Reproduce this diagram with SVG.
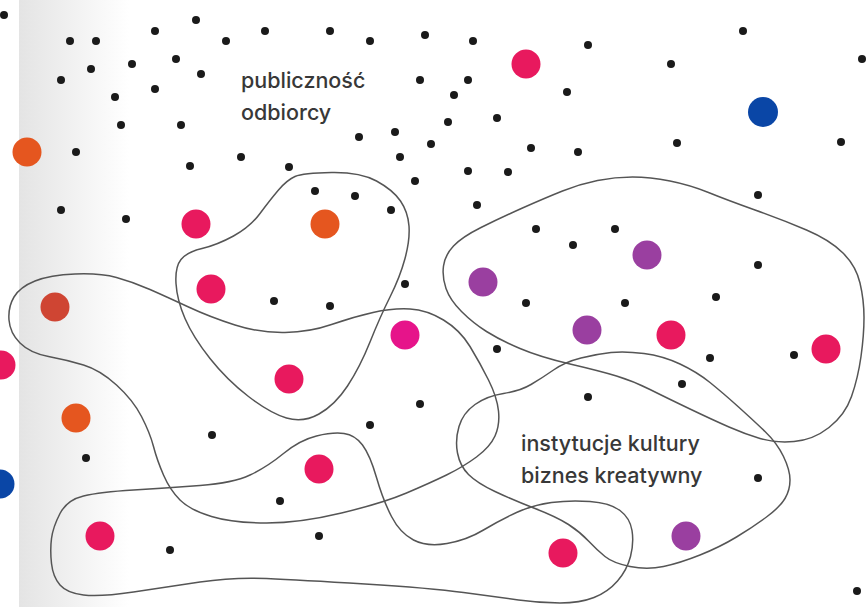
<svg xmlns="http://www.w3.org/2000/svg" width="866" height="607" viewBox="0 0 866 607">
<defs>
<linearGradient id="fade" x1="0" y1="0" x2="1" y2="0">
<stop offset="0" stop-color="#e4e4e4"/>
<stop offset="1" stop-color="#ffffff"/>
</linearGradient>
<style>
.blob{fill:none;stroke:#555555;stroke-width:1.5}
.k{fill:#1a1a1a}
.p{fill:#e8195e}
.m{fill:#e6148a}
.o{fill:#e5561f}
.r{fill:#cf4533}
.v{fill:#9a3fa0}
.b{fill:#0a46a6}
.lbl{font-family:Inter,"Noto Sans",sans-serif;font-size:21.5px;font-weight:500;fill:#383838}
</style>
</defs>
<rect width="866" height="607" fill="#ffffff"/>
<rect x="19" y="0" width="110" height="607" fill="url(#fade)"/>
<g id="blobs">
<path id="blob-a" class="blob" d="M 331.5,172.5 Q 360,172 376.5,181 Q 393,190 400.5,201 Q 408,212 409,226 Q 410,240 405,258.5 Q 400,277 390,297 Q 380,317 370,342 Q 360,367 347.5,386 Q 335,405 319,414 Q 303,423 286.5,418 Q 270,413 248.5,396.5 Q 227,380 210,358.5 Q 193,337 185,318.5 Q 177,300 176,283.5 Q 175,267 181,259.5 Q 187,252 202,248.5 Q 217,245 233.5,236 Q 250,227 260,213.5 Q 270,200 278.5,190 Q 287,180 295,176.5 Q 303,173 331.5,172.5 Z"/>
<path id="blob-b" class="blob" d="M 9,320 Q 8,307 14,297 Q 20,287 35,281 Q 50,275 75,274 Q 100,273 116.5,277.5 Q 133,282 150,289.5 Q 167,297 188.5,307 Q 210,317 235,325 Q 260,333 285,332.5 Q 310,332 331.5,324.5 Q 353,317 373,312.5 Q 393,308 410,309 Q 427,310 443.5,320 Q 460,330 470,346.5 Q 480,363 488.5,380 Q 497,397 498.5,411 Q 500,425 495,436 Q 490,447 476.5,457 Q 463,467 446.5,475 Q 430,483 406.5,493 Q 383,503 341.5,513 Q 300,523 266.5,523 Q 233,523 211.5,516.5 Q 190,510 180,500 Q 170,490 163.5,475 Q 157,460 153.5,446.5 Q 150,433 141.5,416.5 Q 133,400 116.5,385 Q 100,370 83.5,365 Q 67,360 48.5,356.5 Q 30,353 20,343 Q 10,333 9,320 Z"/>
<path id="blob-c" class="blob" d="M 51.5,538.5 Q 53,527 60,513.5 Q 67,500 83.5,496 Q 100,492 133.5,490 Q 167,488 200,485.5 Q 233,483 250,475 Q 267,467 283.5,453.5 Q 300,440 316.5,436 Q 333,432 344,433.5 Q 355,435 362.5,445 Q 370,455 376.5,477.5 Q 383,500 391.5,516.5 Q 400,533 413.5,540 Q 427,547 447,543.5 Q 467,540 483.5,530 Q 500,520 516.5,512.5 Q 533,505 551.5,502.5 Q 570,500 590,501.5 Q 610,503 620,510.5 Q 630,518 632,530.5 Q 634,543 630.5,556.5 Q 627,570 617.5,581 Q 608,592 594,597.5 Q 580,603 560,603 Q 540,603 518.5,600 Q 497,597 463.5,592.5 Q 430,588 365,584 Q 300,580 266.5,578.5 Q 233,577 200,582 Q 167,587 133.5,592 Q 100,597 83.5,595 Q 67,593 60,585 Q 53,577 51.5,563.5 Q 50,550 51.5,538.5 Z"/>
<path id="blob-d" class="blob" d="M 457.5,453 Q 455,440 459,426.5 Q 463,413 475,404.5 Q 487,396 503.5,393.5 Q 520,391 531,384.5 Q 542,378 553.5,370 Q 565,362 581,358 Q 597,354 611,352.5 Q 625,351 644,353.5 Q 663,356 680,364 Q 697,372 710,382.5 Q 723,393 738,406.5 Q 753,420 765,431.5 Q 777,443 783.5,456.5 Q 790,470 790,480 Q 790,490 785,498.5 Q 780,507 766.5,517 Q 753,527 736.5,537 Q 720,547 700,555 Q 680,563 663.5,566.5 Q 647,570 630,566.5 Q 613,563 605,556.5 Q 597,550 588.5,541 Q 580,532 568.5,524.5 Q 557,517 535,508.5 Q 513,500 495,491.5 Q 477,483 468.5,474.5 Q 460,466 457.5,453 Z"/>
<path id="blob-e" class="blob" d="M 446,288.5 Q 442,277 443.5,266 Q 445,255 453.5,246 Q 462,237 481,227.5 Q 500,218 522.5,208 Q 545,198 562.5,191 Q 580,184 597.5,180.5 Q 615,177 632.5,177 Q 650,177 670,181 Q 690,185 708.5,192.5 Q 727,200 755,210 Q 783,220 806.5,230 Q 830,240 843,253 Q 856,266 860,283 Q 864,300 864,317.5 Q 864,335 861,356.5 Q 858,378 851.5,396.5 Q 845,415 829,427.5 Q 813,440 794,441.5 Q 775,443 760,438.5 Q 745,434 729,427 Q 713,420 690,409 Q 667,398 650,389.5 Q 633,381 616.5,376 Q 600,371 570,364 Q 540,357 520,348.5 Q 500,340 486.5,331.5 Q 473,323 461.5,311.5 Q 450,300 446,288.5 Z"/>
</g>
<g id="black-dots" class="k">
<circle cx="4" cy="15" r="4"/><circle cx="70" cy="41" r="4"/><circle cx="96" cy="41" r="4"/><circle cx="155" cy="31" r="4"/><circle cx="196" cy="20" r="4"/><circle cx="226" cy="41" r="4"/><circle cx="265" cy="31" r="4"/><circle cx="91" cy="69" r="4"/><circle cx="61" cy="80" r="4"/><circle cx="132" cy="64" r="4"/><circle cx="176" cy="59" r="4"/><circle cx="201" cy="74" r="4"/><circle cx="155" cy="89" r="4"/><circle cx="115" cy="97" r="4"/><circle cx="121" cy="125" r="4"/><circle cx="181" cy="125" r="4"/><circle cx="76" cy="152" r="4"/><circle cx="190" cy="166" r="4"/><circle cx="241" cy="157" r="4"/><circle cx="289" cy="167" r="4"/>
<circle cx="330" cy="31" r="4"/><circle cx="370" cy="41" r="4"/><circle cx="425" cy="35" r="4"/><circle cx="473" cy="41" r="4"/><circle cx="588" cy="45" r="4"/><circle cx="420" cy="80" r="4"/><circle cx="468" cy="80" r="4"/><circle cx="454" cy="95" r="4"/><circle cx="567" cy="92" r="4"/><circle cx="448" cy="122" r="4"/><circle cx="497" cy="118" r="4"/><circle cx="359" cy="137" r="4"/><circle cx="395" cy="132" r="4"/><circle cx="431" cy="144" r="4"/><circle cx="531" cy="148" r="4"/><circle cx="578" cy="152" r="4"/><circle cx="400" cy="157" r="4"/><circle cx="468" cy="171" r="4"/><circle cx="508" cy="172" r="4"/><circle cx="415" cy="181" r="4"/><circle cx="315" cy="191" r="4"/><circle cx="355" cy="196" r="4"/>
<circle cx="743" cy="31" r="4"/><circle cx="671" cy="64" r="4"/><circle cx="862" cy="59" r="4"/><circle cx="677" cy="143" r="4"/><circle cx="841" cy="142" r="4"/><circle cx="758" cy="195" r="4"/>
<circle cx="61" cy="210" r="4"/><circle cx="126" cy="219" r="4"/><circle cx="274" cy="301" r="4"/><circle cx="330" cy="306" r="4"/><circle cx="391" cy="210" r="4"/><circle cx="477" cy="205" r="4"/><circle cx="536" cy="229" r="4"/><circle cx="573" cy="245" r="4"/><circle cx="405" cy="284" r="4"/><circle cx="526" cy="303" r="4"/><circle cx="497" cy="349" r="4"/>
<circle cx="615" cy="229" r="4"/><circle cx="758" cy="265" r="4"/><circle cx="625" cy="303" r="4"/><circle cx="716" cy="297" r="4"/><circle cx="710" cy="358" r="4"/><circle cx="794" cy="355" r="4"/><circle cx="682" cy="384" r="4"/><circle cx="588" cy="397" r="4"/>
<circle cx="86" cy="458" r="4"/><circle cx="212" cy="435" r="4"/><circle cx="280" cy="501" r="4"/><circle cx="170" cy="550" r="4"/><circle cx="420" cy="404" r="4"/><circle cx="370" cy="425" r="4"/><circle cx="319" cy="536" r="4"/><circle cx="758" cy="478" r="4"/><circle cx="857" cy="591" r="4"/>
</g>
<g id="colour-dots">
<circle class="o" cx="27" cy="152" r="14.5"/>
<circle class="p" cx="526" cy="64" r="14.5"/>
<circle class="b" cx="763" cy="112" r="15"/>
<circle class="p" cx="196" cy="224" r="14.5"/>
<circle class="o" cx="325" cy="224" r="14.5"/>
<circle class="v" cx="647" cy="255" r="14.5"/>
<circle class="v" cx="483" cy="282" r="14.5"/>
<circle class="p" cx="211" cy="289" r="14.5"/>
<circle class="r" cx="55" cy="307" r="14.5"/>
<circle class="v" cx="587" cy="330" r="14.5"/>
<circle class="m" cx="405" cy="335" r="14.5"/>
<circle class="p" cx="671" cy="335" r="14.5"/>
<circle class="p" cx="826" cy="349" r="14.5"/>
<circle class="p" cx="1" cy="365" r="14.5"/>
<circle class="p" cx="289" cy="379" r="14.5"/>
<circle class="o" cx="76" cy="418" r="14.5"/>
<circle class="p" cx="319" cy="469" r="14.5"/>
<circle class="b" cx="0" cy="484" r="14.5"/>
<circle class="p" cx="100" cy="536" r="14.5"/>
<circle class="v" cx="686" cy="536" r="14.5"/>
<circle class="p" cx="563" cy="553" r="14.5"/>
</g>
<g id="label-audience" class="lbl">
<text x="241" y="88">publiczność</text>
<text x="241" y="120">odbiorcy</text>
</g>
<g id="label-institutions" class="lbl">
<text x="521" y="451">instytucje kultury</text>
<text x="521" y="483">biznes kreatywny</text>
</g>
</svg>
